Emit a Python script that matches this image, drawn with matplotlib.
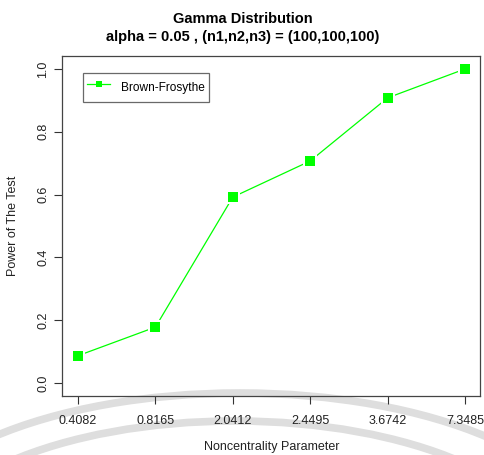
import matplotlib.pyplot as plt
from matplotlib.patches import Arc

plt.rcParams['font.family'] = ['Liberation Sans', 'DejaVu Sans']

# data
ncp_labels = ['0.4082', '0.8165', '2.0412', '2.4495', '3.6742', '7.3485']
power_bf = [0.087, 0.178, 0.592, 0.707, 0.908, 1.0]
xpos = list(range(1, len(ncp_labels) + 1))

W, H = 485, 455
fig = plt.figure(figsize=(W / 100, H / 100), dpi=100)

# faint watermark arcs (figure pixel coords)
bg = fig.add_axes([0, 0, 1, 1], zorder=0)
bg.set_xlim(0, W)
bg.set_ylim(H, 0)
bg.axis('off')
bg.add_patch(Arc((240, 393 + 151), 700, 302, theta1=180, theta2=360,
                 color='#dedede', lw=5.5))
bg.add_patch(Arc((235, 421 + 140), 640, 280, theta1=180, theta2=360,
                 color='#dedede', lw=5.5))

ax = fig.add_axes([62.5 / W, 1 - 395.6 / H, 418 / W, 339.2 / H], zorder=1)
ax.patch.set_alpha(0)

# line + points (R type="b": small gap between line and points)
ax.plot(xpos, power_bf, color='#00ff00', lw=0.9, marker='s', markersize=6.9,
        markeredgewidth=0, label='Brown-Frosythe')
ax.plot(xpos, power_bf, ls='none', marker='s', markersize=10.2,
        color='white', markeredgewidth=0)
ax.plot(xpos, power_bf, ls='none', marker='s', markersize=6.9,
        color='#00ff00', markeredgewidth=0)

ax.set_xlim(0.8, 6.2)
ax.set_ylim(-0.04, 1.04)
ax.set_xticks(xpos)
ax.set_xticklabels(ncp_labels, fontsize=9, color='#222222')
ax.set_yticks([0, 0.2, 0.4, 0.6, 0.8, 1.0])
ax.set_yticklabels(['0.0', '0.2', '0.4', '0.6', '0.8', '1.0'], fontsize=9,
                   rotation=90, va='center', color='#222222')
ax.tick_params(axis='x', length=6, pad=8, color='#333333')
ax.tick_params(axis='y', length=6, pad=3.5, color='#333333')
for s in ax.spines.values():
    s.set_color('#444444')
    s.set_linewidth(0.9)

ax.set_xlabel('Noncentrality Parameter', fontsize=9, labelpad=10, color='#222222')
ax.set_ylabel('Power of The Test', fontsize=9, labelpad=13, color='#222222')

fig.text(0.5, 1 - 19 / H, 'Gamma Distribution', ha='center', va='center',
         fontsize=10.5, fontweight='bold')
fig.text(0.5, 1 - 37 / H, 'alpha = 0.05 , (n1,n2,n3) = (100,100,100)',
         ha='center', va='center', fontsize=10.5, fontweight='bold')

leg = ax.legend(loc='upper left', bbox_to_anchor=((83 - 62.5) / 418, (395.6 - 73) / 339.2),
                prop={'size': 8.6}, frameon=True, fancybox=False, edgecolor='#444444',
                handlelength=1.9, handleheight=2.3, borderpad=0.35, markerscale=0.6,
                handletextpad=0.9, borderaxespad=0)
leg.get_frame().set_linewidth(0.9)

fig.savefig('out.png', dpi=100)
